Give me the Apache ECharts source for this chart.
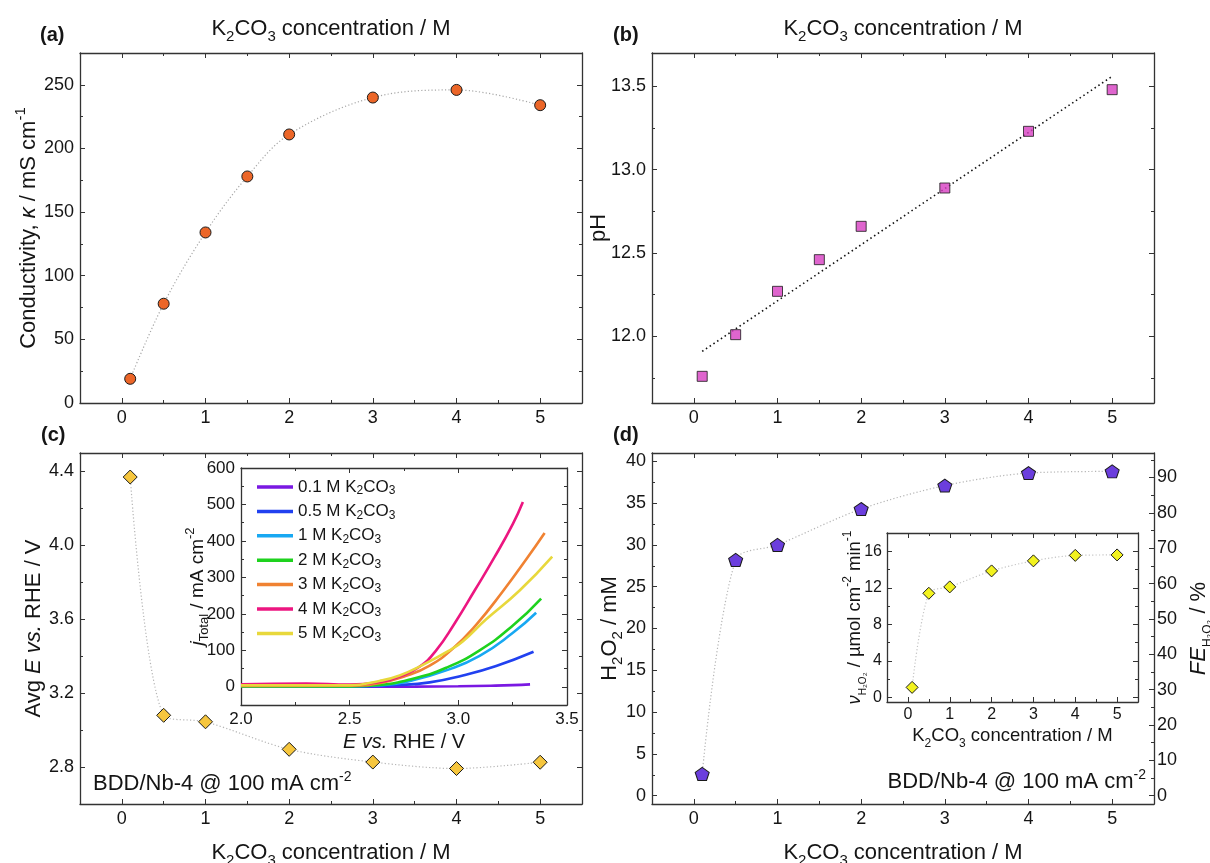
<!DOCTYPE html>
<html><head><meta charset="utf-8">
<script src="https://cdn.jsdelivr.net/npm/echarts@6/dist/echarts.min.js"></script>
<style>html,body{margin:0;padding:0;background:#fff}#c{width:1210px;height:863px}</style>
</head><body><div id="c"></div>
<script>
// ---------------- data ----------------
const conc = [0.1, 0.5, 1, 1.5, 2, 3, 4, 5];
const conductivity = [19, 78, 134, 178, 211, 240, 246, 234];
const pH = [11.76, 12.01, 12.27, 12.46, 12.66, 12.89, 13.23, 13.48];
const pHFitX = [0.1, 5];
const pHFitY = [11.91, 13.56];
const conc7 = [0.1, 0.5, 1, 2, 3, 4, 5];
const avgE = [4.37, 3.08, 3.045, 2.896, 2.827, 2.792, 2.826];
const h2o2 = [2.6, 28.2, 30.0, 34.3, 37.1, 38.6, 38.8];
const rateH2O2 = [1.1, 11.4, 12.1, 13.85, 14.95, 15.55, 15.6];

const lsvNames = ['0.1 M K2CO3', '0.5 M K2CO3', '1 M K2CO3', '2 M K2CO3', '3 M K2CO3', '4 M K2CO3', '5 M K2CO3'];
const lsvColors = ['#7A18E2', '#2141F0', '#18A8F2', '#1ED21E', '#F08232', '#EC1680', '#E8D83C'];
const lsvE_01 = [2.0, 2.5, 2.8, 3.0, 3.15, 3.25, 3.33];
const lsvJ_01 = [0, 0, 0.5, 1.5, 3, 4.5, 6.5];
const lsvE_05 = [2.0, 2.5, 2.6, 2.7, 2.868, 3.021, 3.174, 3.346];
const lsvJ_05 = [0.5, 0.5, 1.5, 4, 12, 31, 57, 96];
const lsvE_1 = [2.0, 2.5, 2.65, 2.791, 2.944, 3.098, 3.251, 3.358];
const lsvJ_1 = [1, 1, 4, 18, 45, 85, 148, 203];
const lsvE_2 = [2.0, 2.5, 2.637, 2.791, 2.944, 3.098, 3.251, 3.381];
const lsvJ_2 = [1, 1, 5, 22, 52, 100, 168, 242];
const lsvE_3 = [2.0, 2.5, 2.637, 2.76, 2.868, 2.975, 3.082, 3.205, 3.32, 3.397];
const lsvJ_3 = [2, 3, 10, 30, 58, 105, 170, 262, 356, 422];
const lsvE_4 = [2.0, 2.3, 2.5, 2.637, 2.73, 2.821, 2.898, 2.982, 3.075, 3.167, 3.251, 3.297];
const lsvJ_4 = [7, 9, 6, 13, 28, 55, 100, 173, 264, 356, 447, 507];
const lsvE_5 = [2.0, 2.5, 2.637, 2.73, 2.837, 2.96, 3.02, 3.128, 3.282, 3.432];
const lsvJ_5 = [4, 4, 16, 31, 60, 100, 124, 185, 264, 357];
const lsvE = [lsvE_01, lsvE_05, lsvE_1, lsvE_2, lsvE_3, lsvE_4, lsvE_5];
const lsvJ = [lsvJ_01, lsvJ_05, lsvJ_1, lsvJ_2, lsvJ_3, lsvJ_4, lsvJ_5];

// tick values
const concTicks = [0, 1, 2, 3, 4, 5];
const concMinor = [0.5, 1.5, 2.5, 3.5, 4.5];
const condTicks = [0, 50, 100, 150, 200, 250];
const condMinor = [25, 75, 125, 175, 225];
const pHTicks = [12.0, 12.5, 13.0, 13.5];
const pHMinor = [11.75, 12.25, 12.75, 13.25];
const eTicks = [2.8, 3.2, 3.6, 4.0, 4.4];
const eMinor = [3.0, 3.4, 3.8, 4.2];
const hTicks = [0, 5, 10, 15, 20, 25, 30, 35, 40];
const hMinor = [2.5, 7.5, 12.5, 17.5, 22.5, 27.5, 32.5, 37.5];
const feTicks = [0, 10, 20, 30, 40, 50, 60, 70, 80, 90];
const feMinor = [5, 15, 25, 35, 45, 55, 65, 75, 85, 95];
const lsvXTicks = [2.0, 2.5, 3.0, 3.5];
const lsvXMinor = [2.25, 2.75, 3.25];
const lsvYTicks = [0, 100, 200, 300, 400, 500, 600];
const lsvYMinor = [50, 150, 250, 350, 450, 550];
const rTicks = [0, 4, 8, 12, 16];
const rMinor = [2, 6, 10, 14];

// ---------------- helpers ----------------
const FONT = '"Liberation Sans", Arial, Helvetica, sans-serif';
const TXT = '#151515';
const AXC = '#333';
const mMperFE = 2.364; // FE % per mM (right axis of panel d)

function nameStyle(fs) {
  const s = Math.round(fs * 0.66);
  const ss = Math.round(fs * 0.55);
  return {
    fontSize: fs, color: TXT, fontFamily: FONT, lineHeight: fs + 8,
    rich: {
      i: {fontSize: fs, fontStyle: 'italic', color: TXT, fontFamily: FONT},
      sub: {fontSize: s, color: TXT, fontFamily: FONT, verticalAlign: 'bottom', lineHeight: s},
      sup: {fontSize: s, color: TXT, fontFamily: FONT, verticalAlign: 'top', lineHeight: s},
      ss: {fontSize: ss, color: TXT, fontFamily: FONT, verticalAlign: 'bottom', lineHeight: ss}
    }
  };
}
function side(list, grid, pos, min, max, majors, minors, lab) {
  lab = lab || {};
  const common = {gridIndex: grid, type: 'value', position: pos, min: min, max: max,
    splitLine: {show: false}, splitArea: {show: false}, silent: true};
  const major = Object.assign({}, common, {
    axisLine: {show: true, onZero: false, lineStyle: {color: AXC, width: 1.3}},
    axisTick: {show: true, inside: true, length: 5, customValues: majors, lineStyle: {color: AXC, width: 1}},
    axisLabel: {show: !!lab.show, customValues: majors, formatter: lab.fmt || (v => String(v)),
      fontSize: lab.fs || 18, color: TXT, fontFamily: FONT, margin: lab.margin == null ? 6 : lab.margin}
  });
  if (lab.name) {
    major.name = lab.name; major.nameLocation = 'middle'; major.nameGap = lab.gap;
    major.nameMoveOverlap = false;
    major.nameTextStyle = nameStyle(lab.nfs || 22);
  }
  const minor = Object.assign({}, common, {
    axisLine: {show: false, onZero: false},
    axisTick: {show: true, inside: true, length: 3, customValues: minors, lineStyle: {color: AXC, width: 1}},
    axisLabel: {show: false}
  });
  list.push(major); const idx = list.length - 1; list.push(minor); return idx;
}
const f1 = v => v.toFixed(1);
const K2CO3 = 'K{sub|2}CO{sub|3} concentration / M';

const grids = [
  {left: 80, top: 53, width: 502, height: 350},    // a
  {left: 652, top: 53, width: 502, height: 350},   // b
  {left: 80, top: 453, width: 502, height: 351},   // c
  {left: 652, top: 453, width: 502, height: 351},  // d
  {left: 241, top: 468, width: 326, height: 237},  // inset c
  {left: 887, top: 533, width: 251, height: 169}   // inset d
];
grids.forEach(g => { g.containLabel = false; g.outerBoundsMode = 'none'; });

const xA = [], yA = [];
// (a)
const ax_a = side(xA, 0, 'bottom', -0.5, 5.5, concTicks, concMinor, {show: true});
side(xA, 0, 'top', -0.5, 5.5, concTicks, concMinor, {name: K2CO3, gap: 9});
const ay_a = side(yA, 0, 'left', 0, 275, condTicks, condMinor, {show: true, name: 'Conductivity, {i|κ} / mS cm{sup|-1}', gap: 36.5});
side(yA, 0, 'right', 0, 275, condTicks, condMinor);
// (b)
const ax_b = side(xA, 1, 'bottom', -0.5, 5.5, concTicks, concMinor, {show: true});
side(xA, 1, 'top', -0.5, 5.5, concTicks, concMinor, {name: K2CO3, gap: 9});
const ay_b = side(yA, 1, 'left', 11.6, 13.7, pHTicks, pHMinor, {show: true, fmt: f1, name: 'pH', gap: 38});
side(yA, 1, 'right', 11.6, 13.7, pHTicks, pHMinor);
// (c)
const ax_c = side(xA, 2, 'bottom', -0.5, 5.5, concTicks, concMinor, {show: true, name: K2CO3, gap: 34});
side(xA, 2, 'top', -0.5, 5.5, concTicks, concMinor);
const ay_c = side(yA, 2, 'left', 2.6, 4.5, eTicks, eMinor, {show: true, fmt: f1, name: 'Avg {i|E} {i|vs.} RHE / V', gap: 31.5});
side(yA, 2, 'right', 2.6, 4.5, eTicks, eMinor);
// (d)
const ax_d = side(xA, 3, 'bottom', -0.5, 5.5, concTicks, concMinor, {show: true, name: K2CO3, gap: 34});
side(xA, 3, 'top', -0.5, 5.5, concTicks, concMinor);
const ay_d = side(yA, 3, 'left', -1, 41, hTicks, hMinor, {show: true, name: 'H{sub|2}O{sub|2} / mM', gap: 27});
side(yA, 3, 'right', -1 * mMperFE, 41 * mMperFE, feTicks, feMinor, {show: true, margin: 3, name: '{i|FE}{ss|H₂O₂} / %', gap: 30});
// inset c
const ax_ic = side(xA, 4, 'bottom', 2.0, 3.5, lsvXTicks, lsvXMinor, {show: true, fmt: f1, fs: 17, name: '{i|E} {i|vs.} RHE / V', gap: 23, nfs: 20});
side(xA, 4, 'top', 2.0, 3.5, lsvXTicks, lsvXMinor);
const ay_ic = side(yA, 4, 'left', -50, 600, lsvYTicks, lsvYMinor, {show: true, fs: 17, name: '{i|j}{sub|Total} / mA cm{sup|-2}', gap: 30, nfs: 19});
side(yA, 4, 'right', -50, 600, lsvYTicks, lsvYMinor);
// inset d
const ax_id = side(xA, 5, 'bottom', -0.5, 5.5, concTicks, concMinor, {show: true, fs: 16, margin: 5, name: K2CO3, gap: 21, nfs: 18.5});
side(xA, 5, 'top', -0.5, 5.5, concTicks, concMinor);
const ay_id = side(yA, 5, 'left', -0.5, 18, rTicks, rMinor, {show: true, fs: 16, margin: 5, name: '{i|ν}{ss|H₂O₂} / µmol cm{sup|-2} min{sup|-1}', gap: 19, nfs: 18.5});
side(yA, 5, 'right', -0.5, 18, rTicks, rMinor);

const pairs = (xs, ys) => xs.map((x, i) => [x, ys[i]]);
const dotted = c => ({color: c, width: 1.2, type: [1.2, 2.2]});

const series = [];
series.push({type: 'line', xAxisIndex: ax_a, yAxisIndex: ay_a, data: pairs(conc, conductivity), smooth: 0.35,
  symbol: 'circle', symbolSize: 11, lineStyle: dotted('#a8a8a8'),
  itemStyle: {color: '#EC6628', borderColor: '#1a1a1a', borderWidth: 1}, z: 3});
series.push({type: 'line', xAxisIndex: ax_b, yAxisIndex: ay_b, data: pairs(pHFitX, pHFitY), symbol: 'none',
  lineStyle: {color: '#111', width: 1.6, type: [1.5, 3]}, z: 2});
series.push({type: 'scatter', xAxisIndex: ax_b, yAxisIndex: ay_b, data: pairs(conc, pH), symbol: 'rect', symbolSize: 10,
  itemStyle: {color: '#D73EC2', borderColor: '#1a1a1a', borderWidth: 1}, z: 3});
series.push({type: 'line', xAxisIndex: ax_c, yAxisIndex: ay_c, data: pairs(conc7, avgE), smooth: 0.3,
  symbol: 'diamond', symbolSize: 14, lineStyle: dotted('#b5b5b5'),
  itemStyle: {color: '#F6C63E', borderColor: '#1a1a1a', borderWidth: 1}, z: 3});
series.push({type: 'line', xAxisIndex: ax_d, yAxisIndex: ay_d, data: pairs(conc7, h2o2), smooth: 0.3,
  symbol: 'path://M50,0L97.55,34.55L79.39,90.45L20.61,90.45L2.45,34.55Z', symbolSize: [14, 13], lineStyle: dotted('#b5b5b5'),
  itemStyle: {color: '#6B3EDD', borderColor: '#1a1a1a', borderWidth: 1}, z: 3});
series.push({type: 'line', xAxisIndex: ax_id, yAxisIndex: ay_id, data: pairs(conc7, rateH2O2), smooth: 0.3,
  symbol: 'diamond', symbolSize: 12, lineStyle: dotted('#c4c4c4'),
  itemStyle: {color: '#F2F21E', borderColor: '#1a1a1a', borderWidth: 1}, z: 3});
lsvNames.forEach((n, k) => {
  series.push({type: 'line', name: n, xAxisIndex: ax_ic, yAxisIndex: ay_ic, data: pairs(lsvE[k], lsvJ[k]),
    smooth: 0.5, symbol: 'none', color: lsvColors[k],
    lineStyle: {color: lsvColors[k], width: 2.6}, z: 3});
});

const subR = {fontSize: 12, color: TXT, fontFamily: FONT, verticalAlign: 'bottom', lineHeight: 12};
const supStyle = {fontSize: 14, fontFamily: FONT, fill: TXT, verticalAlign: 'top', lineHeight: 14};
const option = {
  animation: false,
  backgroundColor: '#fff',
  grid: grids,
  xAxis: xA,
  yAxis: yA,
  series: series,
  legend: {
    data: lsvNames, orient: 'vertical', left: 252, top: 472, itemWidth: 36, itemHeight: 3.5, itemGap: 4.4,
    icon: 'rect', selectedMode: false,
    textStyle: {fontSize: 17, color: TXT, fontFamily: FONT, lineHeight: 20, rich: {sub: subR}},
    formatter: n => n.replace('K2CO3', 'K{sub|2}CO{sub|3}')
  },
  graphic: [
    {type: 'text', x: 40, y: 25, style: {text: '(a)', font: 'bold 20px ' + FONT, fill: TXT}},
    {type: 'text', x: 613, y: 25, style: {text: '(b)', font: 'bold 20px ' + FONT, fill: TXT}},
    {type: 'text', x: 41, y: 425, style: {text: '(c)', font: 'bold 20px ' + FONT, fill: TXT}},
    {type: 'text', x: 613, y: 425, style: {text: '(d)', font: 'bold 20px ' + FONT, fill: TXT}},
    {type: 'text', x: 93, y: 784, style: {text: 'BDD/Nb-4 @ 100 mA cm{sup|-2}', fontSize: 22, fontFamily: FONT, fill: TXT,
      verticalAlign: 'middle', lineHeight: 28, rich: {sup: supStyle}}},
    {type: 'text', x: 1146, y: 782, style: {text: 'BDD/Nb-4 @ 100 mA cm{sup|-2}', fontSize: 22, fontFamily: FONT, fill: TXT,
      align: 'right', verticalAlign: 'middle', lineHeight: 28, rich: {sup: supStyle}}}
  ]
};
const chart = echarts.init(document.getElementById('c'), null, {renderer: 'canvas'});
chart.setOption(option);
</script></body></html>
